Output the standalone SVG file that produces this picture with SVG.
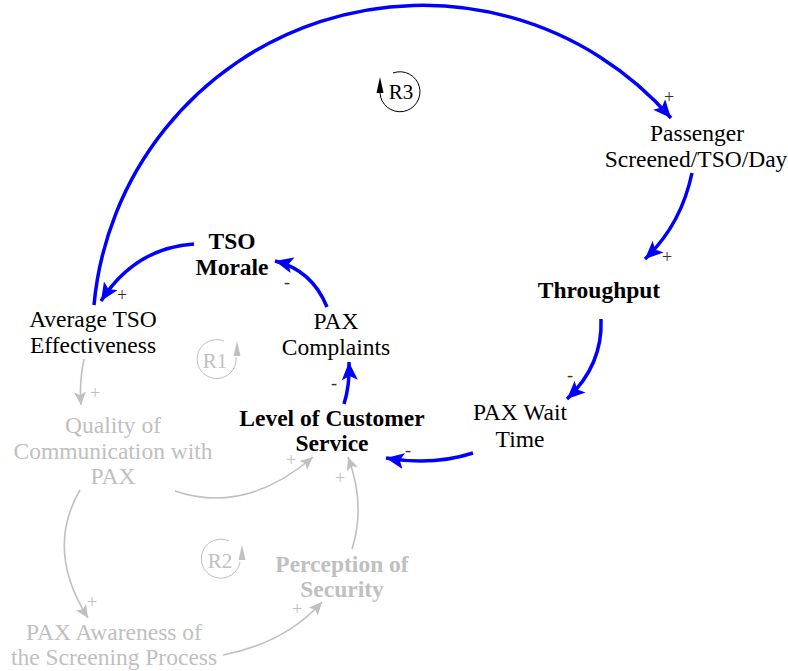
<svg xmlns="http://www.w3.org/2000/svg" width="788" height="671" viewBox="0 0 788 671" font-family="'Liberation Serif', 'Times New Roman', serif">
  <style>
    text { font-family: "Liberation Serif", "Times New Roman", serif; text-anchor: middle; }
    .n { font-size: 23.5px; fill: #000; }
    .b { font-weight: bold; }
    .g { fill: #c0c0c0; }
    .pol { font-size: 18px; fill: #333; }
    .polg { font-size: 18px; fill: #c0c0c0; }
    .lp { font-size: 21px; }
    .blue { fill: none; stroke: #0000ff; stroke-width: 3.5; }
    .grey { fill: none; stroke: #c0c0c0; stroke-width: 1.6; }
  </style>
  <defs>
    <marker id="ab" markerUnits="userSpaceOnUse" markerWidth="20" markerHeight="16" refX="18" refY="8" orient="auto">
      <path d="M0,0 L18,8 L0,16 L4,8 Z" fill="#0000ff"/>
    </marker>
    <marker id="ag" markerUnits="userSpaceOnUse" markerWidth="14" markerHeight="12" refX="13" refY="6" orient="auto">
      <path d="M0,0 L13,6 L0,12 L3,6 Z" fill="#c0c0c0"/>
    </marker>
  </defs>

  <!-- causal links -->
  <g id="connectors">
    <path class="blue" d="M94,305 A330,330 0 0 1 671,118" marker-end="url(#ab)"/>
    <path class="blue" d="M692,173 Q681,225 645,259" marker-end="url(#ab)"/>
    <path class="blue" d="M601,319 Q603,365 567,399" marker-end="url(#ab)"/>
    <path class="blue" d="M473,453 Q433,466 386,458" marker-end="url(#ab)"/>
    <path class="blue" d="M344,404 Q350,385 349,362" marker-end="url(#ab)"/>
    <path class="blue" d="M327,307 Q312,270 275,261" marker-end="url(#ab)"/>
    <path class="blue" d="M194,244 Q135,248 101,301" marker-end="url(#ab)"/>

    <path class="grey" d="M84,359 Q79,382 81,405" marker-end="url(#ag)"/>
    <path class="grey" d="M175,491 Q245,515 313,457" marker-end="url(#ag)"/>
    <path class="grey" d="M352,549 Q366,505 348,457" marker-end="url(#ag)"/>
    <path class="grey" d="M80,490 Q45,550 88,618" marker-end="url(#ag)"/>
    <path class="grey" d="M223,655 Q285,643 322,602" marker-end="url(#ag)"/>

    <!-- polarity signs -->
    <text class="pol" x="669" y="103">+</text>
    <text class="pol" x="667" y="263">+</text>
    <text class="pol" x="122" y="301">+</text>
    <text class="pol" x="287" y="288">-</text>
    <text class="pol" x="334" y="389">-</text>
    <text class="pol" x="570" y="381">-</text>
    <text class="pol" x="408" y="456">-</text>
    <text class="polg" x="95" y="399">+</text>
    <text class="polg" x="291" y="466">+</text>
    <text class="polg" x="340" y="484">+</text>
    <text class="polg" x="92" y="608">+</text>
    <text class="polg" x="297" y="615">+</text>
  </g>

  <!-- loop identifiers -->
  <g id="loop-R3">
    <path d="M380,93 A20,20 0 1 0 393,73" fill="none" stroke="#000" stroke-width="1"/>
    <path d="M380,77 L376.5,93 L383.5,93 Z" fill="#000"/>
    <text class="lp" x="401" y="99">R3</text>
  </g>
  <g id="loop-R1">
    <path d="M236,357 A19.5,19.5 0 1 1 224,341" fill="none" stroke="#c0c0c0" stroke-width="1"/>
    <path d="M237,341 L233.5,356 L240.5,356 Z" fill="#c0c0c0"/>
    <text class="lp g" x="215" y="368">R1</text>
  </g>
  <g id="loop-R2">
    <path d="M240,562 A19.5,19.5 0 1 1 229,541" fill="none" stroke="#c0c0c0" stroke-width="1"/>
    <path d="M242,545 L238.5,560 L245.5,560 Z" fill="#c0c0c0"/>
    <text class="lp g" x="220" y="568">R2</text>
  </g>

  <!-- variables -->
  <g id="passenger-screened">
    <text class="n" x="697" y="141">Passenger</text>
    <text class="n" x="696" y="167">Screened/TSO/Day</text>
  </g>
  <g id="throughput">
    <text class="n b" x="599" y="298">Throughput</text>
  </g>
  <g id="pax-wait-time">
    <text class="n" x="520" y="420">PAX Wait</text>
    <text class="n" x="520" y="447">Time</text>
  </g>
  <g id="level-of-customer-service">
    <text class="n b" x="332" y="426">Level of Customer</text>
    <text class="n b" x="332" y="451">Service</text>
  </g>
  <g id="pax-complaints">
    <text class="n" x="336" y="329">PAX</text>
    <text class="n" x="336" y="355">Complaints</text>
  </g>
  <g id="tso-morale">
    <text class="n b" x="232" y="249">TSO</text>
    <text class="n b" x="232" y="275">Morale</text>
  </g>
  <g id="average-tso-effectiveness">
    <text class="n" x="93" y="327">Average TSO</text>
    <text class="n" x="93" y="353">Effectiveness</text>
  </g>
  <g id="quality-of-communication">
    <text class="n g" x="113" y="433">Quality of</text>
    <text class="n g" x="113" y="459">Communication with</text>
    <text class="n g" x="113" y="484">PAX</text>
  </g>
  <g id="pax-awareness">
    <text class="n g" x="114" y="640">PAX Awareness of</text>
    <text class="n g" x="114" y="665">the Screening Process</text>
  </g>
  <g id="perception-of-security">
    <text class="n b g" x="342" y="572">Perception of</text>
    <text class="n b g" x="342" y="597">Security</text>
  </g>
</svg>
